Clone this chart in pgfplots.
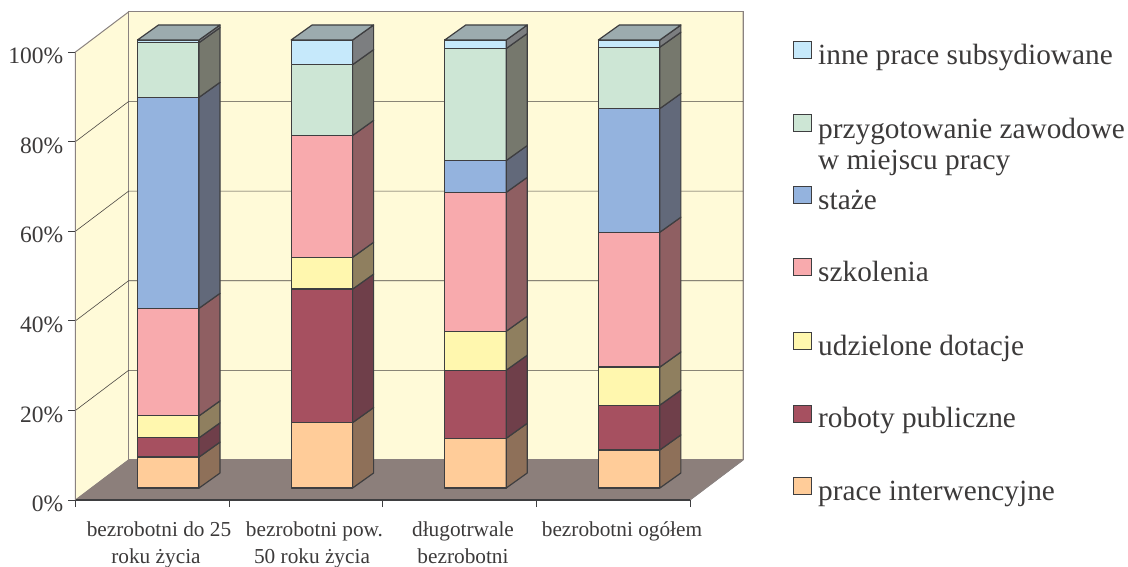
\documentclass[border=0pt]{standalone}
\usepackage{fontspec}
\setmainfont{Liberation Serif}
\usepackage{pgfplots}
\pgfplotsset{compat=1.18}

\definecolor{txt}{HTML}{3C3A3A}
\definecolor{wall}{HTML}{FFFAD8}
\definecolor{flr}{HTML}{8C7F7B}
\definecolor{edge}{HTML}{3E3E40}
\definecolor{frame}{HTML}{8A8280}
\definecolor{gridc}{HTML}{4A4642}
\definecolor{topc}{HTML}{9CABAE}
% front and side colour of each series
\definecolor{aF}{HTML}{FFCC99}\definecolor{aS}{HTML}{8E7059}
\definecolor{bF}{HTML}{A65060}\definecolor{bS}{HTML}{6F3F4A}
\definecolor{cF}{HTML}{FFF7AE}\definecolor{cS}{HTML}{8F7F5F}
\definecolor{dF}{HTML}{F8AAAD}\definecolor{dS}{HTML}{8F5F62}
\definecolor{eF}{HTML}{94B3DE}\definecolor{eS}{HTML}{62697A}
\definecolor{fF}{HTML}{CDE6D5}\definecolor{fS}{HTML}{76786D}
\definecolor{gF}{HTML}{C6E9FB}\definecolor{gS}{HTML}{7C7E80}

% #1 category, #2 lower value, #3 upper value, #4 series letter
\newcommand{\seg}[4]{%
  \pgfmathsetmacro{\xa}{#1+0.4036}\pgfmathsetmacro{\xb}{#1+0.8040}\pgfmathsetmacro{\xc}{#1+0.9407}%
  \pgfmathsetmacro{\ya}{#2+2.68}\pgfmathsetmacro{\yb}{#3+2.68}%
  \pgfmathsetmacro{\yc}{#2+6.03}\pgfmathsetmacro{\yd}{#3+6.03}%
  \addplot[fill=#4F,draw=edge,line width=1.2pt,line join=round] coordinates {(\xa,\ya) (\xb,\ya) (\xb,\yb) (\xa,\yb)} --cycle;
  \addplot[fill=#4S,draw=edge,line width=1.2pt,line join=round] coordinates {(\xb,\ya) (\xc,\yc) (\xc,\yd) (\xb,\yb)} --cycle;
}
% top face of a bar
\newcommand{\lid}[1]{%
  \pgfmathsetmacro{\xa}{#1+0.4036}\pgfmathsetmacro{\xb}{#1+0.8040}\pgfmathsetmacro{\xc}{#1+0.9407}\pgfmathsetmacro{\xd}{#1+0.5403}%
  \addplot[fill=topc,draw=edge,line width=1.2pt,line join=round] coordinates {(\xa,102.68) (\xb,102.68) (\xc,106.03) (\xd,106.03)} --cycle;
}
% legend swatch and text, all in picture coordinates
\newcommand{\legkey}[2]{%
  \draw[fill=#2,draw=edge,line width=1pt] (793.5pt,{566pt-#1pt}) rectangle (811pt,{566pt-#1pt-17pt});
}
\newcommand{\legtxt}[2]{%
  \node[anchor=base west,inner sep=0pt,text=txt,font=\fontsize{29.3}{30}\selectfont] at (818pt,{566pt-#1pt}) {#2};
}
\newcommand{\catlab}[3]{%
  \node[anchor=base,inner sep=0pt,text=txt,font=\fontsize{21.3}{22}\selectfont] at (#1pt,{566pt-#2pt}) {#3};
}

\begin{document}
\begin{tikzpicture}
\path[use as bounding box] (0,0) rectangle (1128pt,566pt);
\begin{axis}[
    at={(75.5pt,66pt)},
    anchor=south west,
    scale only axis,
    width=614.5pt,
    height=448pt,
    xmin=0, xmax=4,
    ymin=0, ymax=100,
    clip=false,
    axis on top,
    axis x line*=bottom,
    axis y line*=left,
    x axis line style={draw=edge,line width=1.2pt},
    y axis line style={draw=frame,line width=1.2pt},
    xtick={0,1,2,3,4},
    xticklabels={},
    ytick={0,20,40,60,80,100},
    yticklabel={\pgfmathprintnumber{\tick}\%},
    /pgf/number format/assume math mode=true,
    tick align=outside,
    major tick length=7pt,
    tick style={draw=edge,line width=0.9pt},
    yticklabel style={font=\fontsize{23.5}{26}\selectfont,text=txt,xshift=-2pt,yshift=-4pt,inner sep=3pt},
]
% walls and floor
\addplot[fill=wall,draw=frame,line width=1pt] coordinates {(0,0) (0,100) (0.345,108.93) (0.345,8.93)} --cycle;
\addplot[fill=wall,draw=frame,line width=1pt] coordinates {(0.345,8.93) (0.345,108.93) (4.345,108.93) (4.345,8.93)} --cycle;
\addplot[fill=flr,draw=flr,line width=0.5pt] coordinates {(0,0) (4,0) (4.345,8.93) (0.345,8.93)} --cycle;
\addplot[draw=frame,line width=1pt] coordinates {(4,0) (4.345,8.93) (4.345,108.93)};
% grid on the walls
\addplot[draw=gridc,line width=0.6pt] coordinates {(0,20) (0.345,28.93) (4.345,28.93)};
\addplot[draw=gridc,line width=0.6pt] coordinates {(0,40) (0.345,48.93) (4.345,48.93)};
\addplot[draw=gridc,line width=0.6pt] coordinates {(0,60) (0.345,68.93) (4.345,68.93)};
\addplot[draw=gridc,line width=0.6pt] coordinates {(0,80) (0.345,88.93) (4.345,88.93)};
% bezrobotni do 25 roku zycia
\seg{0}{0}{6.9}{a}\seg{0}{6.9}{11.2}{b}\seg{0}{11.2}{16.1}{c}\seg{0}{16.1}{40.1}{d}
\seg{0}{40.1}{87.2}{e}\seg{0}{87.2}{99.4}{f}\seg{0}{99.4}{100}{g}\lid{0}
% bezrobotni pow. 50 roku zycia
\seg{1}{0}{14.6}{a}\seg{1}{14.6}{44.4}{b}\seg{1}{44.4}{51.5}{c}\seg{1}{51.5}{78.7}{d}
\seg{1}{78.7}{94.5}{f}\seg{1}{94.5}{100}{g}\lid{1}
% dlugotrwale bezrobotni
\seg{2}{0}{11.1}{a}\seg{2}{11.1}{26.3}{b}\seg{2}{26.3}{35.0}{c}\seg{2}{35.0}{66.0}{d}
\seg{2}{66.0}{73.1}{e}\seg{2}{73.1}{98.1}{f}\seg{2}{98.1}{100}{g}\lid{2}
% bezrobotni ogolem
\seg{3}{0}{8.5}{a}\seg{3}{8.5}{18.5}{b}\seg{3}{18.5}{27.0}{c}\seg{3}{27.0}{57.1}{d}
\seg{3}{57.1}{84.7}{e}\seg{3}{84.7}{98.4}{f}\seg{3}{98.4}{100}{g}\lid{3}
\end{axis}
% category labels
\catlab{159}{536}{bezrobotni do 25}
\catlab{156}{563}{roku życia}
\catlab{314.5}{536}{bezrobotni pow.}
\catlab{312}{563}{50 roku życia}
\catlab{463}{536}{długotrwale}
\catlab{463}{563}{bezrobotni}
\catlab{622}{536}{bezrobotni ogółem}
% legend
\legkey{42}{gF}\legtxt{65}{inne prace subsydiowane}
\legkey{115}{fF}\legtxt{139}{przygotowanie zawodowe}\legtxt{170}{w miejscu pracy}
\legkey{187}{eF}\legtxt{210}{staże}
\legkey{259}{dF}\legtxt{282}{szkolenia}
\legkey{332}{cF}\legtxt{355}{udzielone dotacje}
\legkey{405}{bF}\legtxt{427}{roboty publiczne}
\legkey{477}{aF}\legtxt{500}{prace interwencyjne}
\end{tikzpicture}
\end{document}
